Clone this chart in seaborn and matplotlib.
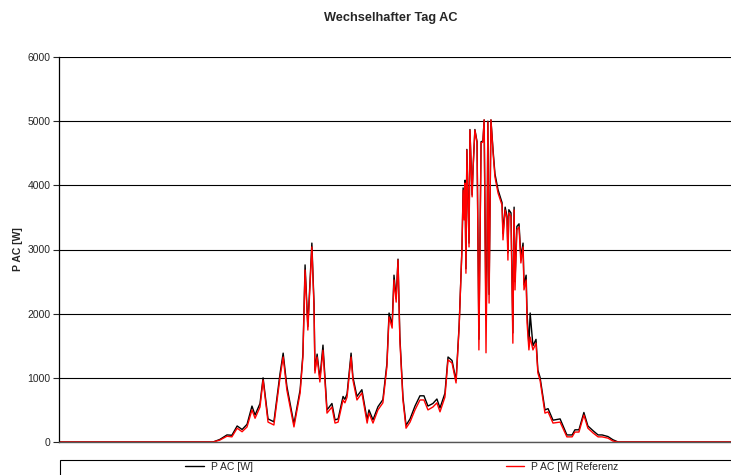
"""Wechselhafter Tag AC - Vergleich P AC gemessen / Referenz"""

import matplotlib
matplotlib.use("Agg")
import matplotlib.pyplot as plt
import matplotlib.patches as patches
import seaborn as sns

# Zeit in Stunden
stunden = [
    0.00, 4.99, 5.21, 5.44, 5.60, 5.77, 5.93, 6.09, 6.25, 6.35,
    6.51, 6.61, 6.77, 6.96, 7.16, 7.26, 7.38, 7.61, 7.81, 7.90,
    7.97, 8.06, 8.19, 8.26, 8.29, 8.36, 8.45, 8.55, 8.68, 8.84,
    8.94, 9.04, 9.20, 9.26, 9.33, 9.46, 9.52, 9.65, 9.81, 9.98,
    10.04, 10.17, 10.33, 10.49, 10.62, 10.69, 10.79, 10.85, 10.92, 10.98,
    11.04, 11.14, 11.24, 11.37, 11.53, 11.69, 11.82, 11.95, 12.11, 12.24,
    12.34, 12.50, 12.60, 12.73, 12.86, 12.96, 13.05, 13.09, 13.12, 13.15,
    13.18, 13.21, 13.28, 13.31, 13.38, 13.41, 13.47, 13.54, 13.60, 13.67,
    13.73, 13.77, 13.83, 13.86, 13.89, 13.93, 13.99, 14.06, 14.12, 14.22,
    14.35, 14.38, 14.45, 14.51, 14.54, 14.57, 14.64, 14.70, 14.74, 14.77,
    14.83, 14.90, 14.96, 15.03, 15.06, 15.13, 15.16, 15.22, 15.26, 15.35,
    15.45, 15.51, 15.58, 15.74, 15.84, 16.00, 16.23, 16.45, 16.62, 16.71,
    16.84, 17.00, 17.13, 17.30, 17.46, 17.59, 17.78, 17.94, 18.11, 24.00,
]

# P AC [W] gemessen (schwarz)
p_ac = [
    0, 0, 40, 110, 105, 250, 195, 275, 560, 420,
    600, 1000, 360, 315, 1070, 1385, 870, 280, 815, 1370,
    2760, 1800, 3100, 2150, 1120, 1370, 990, 1510, 500, 600,
    345, 360, 710, 665, 750, 1385, 1010, 710, 815, 345,
    500, 345, 550, 660, 1220, 2010, 1830, 2600, 2240, 2850,
    1640, 700, 260, 360, 560, 720, 720, 560, 600, 670,
    530, 760, 1325, 1270, 960, 1820, 3000, 3960, 3500, 4080,
    2700, 4560, 3100, 4870, 3850, 4260, 4870, 4680, 1600, 4680,
    4690, 5020, 1900, 2750, 5000, 2300, 5020, 4540, 4180, 3930,
    3730, 3250, 3660, 3520, 2950, 3620, 3570, 1700, 3660, 2500,
    3360, 3400, 2880, 3100, 2450, 2600, 2000, 1500, 2010, 1500,
    1600, 1120, 1010, 500, 520, 340, 360, 110, 110, 190,
    190, 460, 250, 175, 110, 110, 85, 35, 0, 0,
]

# P AC [W] Referenz (rot)
p_ac_ref = [
    0, 0, 30, 90, 80, 215, 160, 235, 500, 370,
    545, 965, 310, 265, 1010, 1325, 810, 235, 765, 1325,
    2680, 1745, 3040, 2100, 1075, 1325, 935, 1430, 450, 545,
    295, 310, 655, 610, 700, 1325, 965, 655, 765, 295,
    450, 295, 500, 610, 1170, 1950, 1775, 2525, 2180, 2835,
    1590, 655, 215, 310, 500, 655, 655, 500, 545, 610,
    470, 700, 1280, 1230, 920, 1790, 2990, 3925, 3460, 4035,
    2630, 4550, 3040, 4860, 3820, 4240, 4860, 4660, 1435, 4660,
    4675, 5020, 1390, 2680, 4990, 2165, 5020, 4500, 4130, 3880,
    3690, 3150, 3615, 3460, 2835, 3570, 3510, 1540, 3615, 2370,
    3305, 3350, 2790, 3040, 2370, 2525, 1855, 1435, 1635, 1435,
    1540, 1075, 965, 450, 470, 295, 310, 80, 80, 155,
    155, 420, 215, 140, 80, 80, 60, 15, 0, 0,
]

y_ticks = [0, 1000, 2000, 3000, 4000, 5000, 6000]

sns.set_style("white")
plt.rcParams["font.family"] = ["Liberation Sans", "DejaVu Sans"]

fig = plt.figure(figsize=(7.31, 4.75), dpi=100)
# Diagramm ist rechts abgeschnitten wie in der Vorlage
ax = fig.add_axes([59 / 731, 1 - 442 / 475, (800 - 59) / 731, (442 - 57) / 475])

sns.lineplot(x=stunden, y=p_ac, color="black", linewidth=1.0, ax=ax)
sns.lineplot(x=stunden, y=p_ac_ref, color="#ff0000", linewidth=1.0, ax=ax)

ax.set_xlim(0, 24)
ax.set_ylim(0, 6000)
ax.set_yticks(y_ticks)
ax.set_xticks([])
ax.yaxis.grid(True, color="black", linewidth=0.8)
ax.tick_params(axis="y", labelsize=7.5, length=4, width=0.8, pad=2, left=True, direction="out")
ax.set_ylabel("P AC [W]", fontsize=7.5, fontweight="bold", labelpad=3)

for side in ["top", "right"]:
    ax.spines[side].set_visible(False)
ax.spines["left"].set_color("black")
ax.spines["left"].set_linewidth(0.9)
ax.spines["bottom"].set_color("#555555")
ax.spines["bottom"].set_linewidth(1.0)

fig.text(391 / 731, 1 - 18 / 475, "Wechselhafter Tag AC", ha="center", va="center",
         fontsize=9.2, fontweight="bold")

# Legende unten mit Rahmen
handles = [plt.Line2D([], [], color="black", lw=1.0), plt.Line2D([], [], color="#ff0000", lw=1.0)]
fig.legend(handles, ["P AC [W]", "P AC [W] Referenz"], ncol=2, loc="upper left",
           bbox_to_anchor=(185 / 731, 1 - 462 / 475), frameon=False, fontsize=7.5,
           borderpad=0, borderaxespad=0, handlelength=1.8, handletextpad=0.65,
           columnspacing=24.3)
rahmen = patches.Rectangle((60 / 731, -0.05), (800 - 60) / 731, (1 - 460 / 475) + 0.05,
                           transform=fig.transFigure, fill=False, edgecolor="black", lw=0.8)
fig.add_artist(rahmen)

fig.savefig("out.png", dpi=100)
